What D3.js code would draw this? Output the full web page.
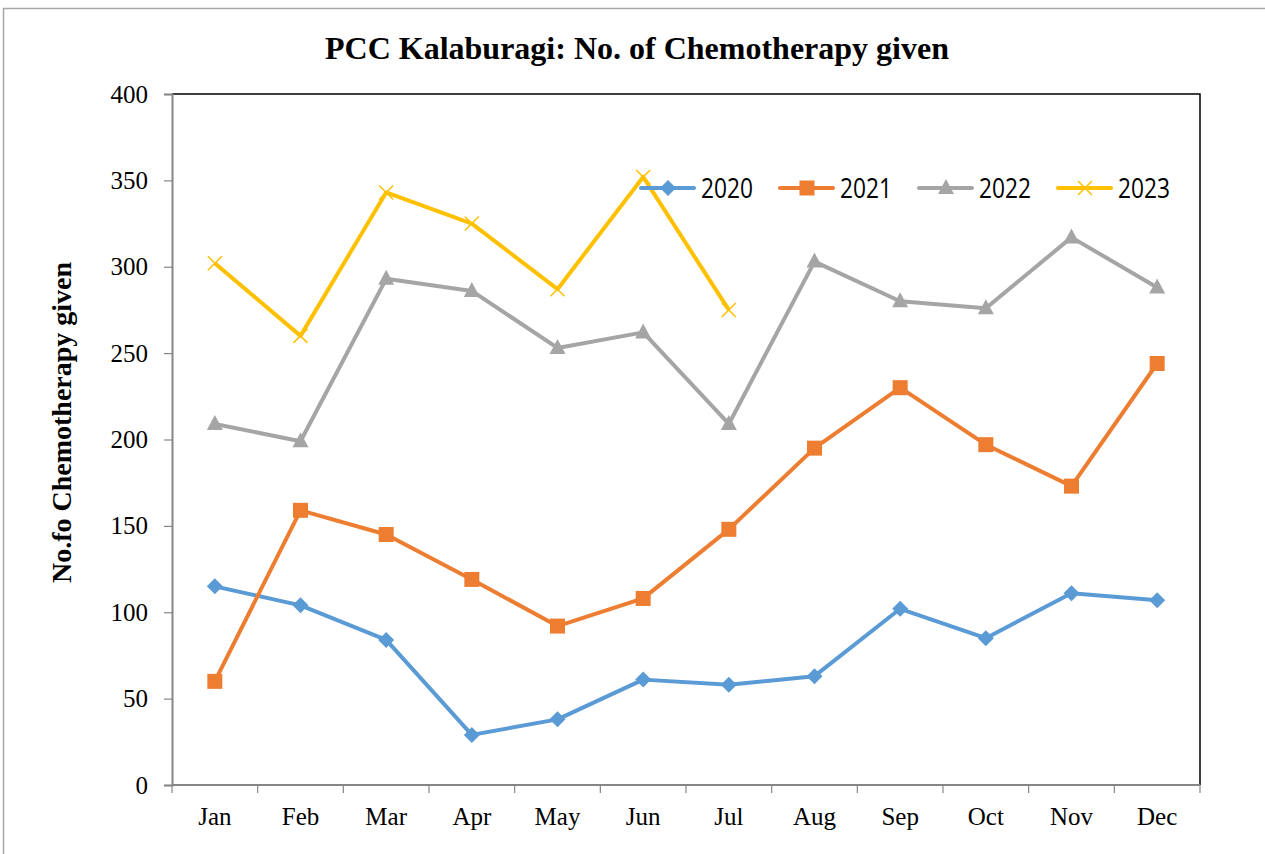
<!DOCTYPE html>
<html>
<head>
<meta charset="utf-8">
<script src="https://cdn.jsdelivr.net/npm/d3@7"></script>
<style>
  body { margin: 0; background: #fff; }
  svg { display: block; }
</style>
</head>
<body>
<svg id="chart" width="1265" height="854"></svg>
<script>
// Monthly chemotherapy counts at PCC Kalaburagi
const months = ["Jan","Feb","Mar","Apr","May","Jun","Jul","Aug","Sep","Oct","Nov","Dec"];
const years = ["2020","2021","2022","2023"];
const v2020 = [115, 104, 84, 29, 38, 61, 58, 63, 102, 85, 111, 107];
const v2021 = [60, 159, 145, 119, 92, 108, 148, 195, 230, 197, 173, 244];
const v2022 = [209, 199, 293, 286, 253, 262, 209, 303, 280, 276, 317, 288];
const v2023 = [302, 260, 343, 325, 287, 352, 275];
const yTicks = [0, 50, 100, 150, 200, 250, 300, 350, 400];

const seriesValues = [v2020, v2021, v2022, v2023];
const colors = ["#5b9bd5", "#ed7d31", "#a5a5a5", "#ffc000"];
const symbols = ["diamond", "square", "triangle", "cross"];

const svg = d3.select("#chart");
const serif = "'Liberation Serif', 'Times New Roman', serif";

// Outer chart frame
svg.append("rect")
  .attr("x", 3.5).attr("y", 8.5).attr("width", 1300).attr("height", 900)
  .attr("fill", "none").attr("stroke", "#a6a6a6").attr("stroke-width", 1.5);

const plotLeft = 172, plotRight = 1200, plotTop = 94, plotBottom = 785;

const x = d3.scaleBand().domain(months).range([plotLeft, plotRight]);
const y = d3.scaleLinear().domain([0, 400]).range([plotBottom, plotTop]);

// Plot-area border (top/right black)
svg.append("path")
  .attr("d", `M${plotLeft},${plotTop}H${plotRight}V${plotBottom}`)
  .attr("fill", "none").attr("stroke", "#000").attr("stroke-width", 1.5);

// Y axis
const yAxis = svg.append("g")
  .attr("transform", `translate(${plotLeft},0)`)
  .call(d3.axisLeft(y).tickValues(yTicks).tickSize(8).tickPadding(16));
yAxis.select(".domain").attr("stroke", "#868686").attr("stroke-width", 2);
yAxis.selectAll(".tick line").attr("stroke", "#868686").attr("stroke-width", 1.2);
yAxis.selectAll(".tick text")
  .attr("font-family", serif).attr("font-size", 25).attr("fill", "#000");

// X axis with ticks at band boundaries
const xAxisG = svg.append("g").attr("transform", `translate(0,${plotBottom})`);
xAxisG.append("line")
  .attr("x1", plotLeft).attr("x2", plotRight).attr("y1", 0).attr("y2", 0)
  .attr("stroke", "#868686").attr("stroke-width", 2);
const bounds = months.map(m => x(m)).concat([plotRight]);
xAxisG.selectAll("line.tk").data(bounds).enter().append("line")
  .attr("class", "tk")
  .attr("x1", d => d).attr("x2", d => d).attr("y1", 0).attr("y2", 8)
  .attr("stroke", "#868686").attr("stroke-width", 1.2);
xAxisG.selectAll("text").data(months).enter().append("text")
  .attr("x", d => x(d) + x.bandwidth() / 2)
  .attr("y", 40)
  .attr("text-anchor", "middle")
  .attr("font-family", serif).attr("font-size", 25)
  .text(d => d);

// Title
svg.append("text")
  .attr("x", 637).attr("y", 59)
  .attr("text-anchor", "middle")
  .attr("font-family", serif).attr("font-size", 32).attr("font-weight", "bold")
  .text("PCC Kalaburagi: No. of Chemotherapy given");

// Y-axis title
svg.append("text")
  .attr("transform", `translate(71,${(plotTop + plotBottom) / 2 - 17}) rotate(-90)`)
  .attr("text-anchor", "middle")
  .attr("font-family", serif).attr("font-size", 28).attr("font-weight", "bold")
  .text("No.fo Chemotherapy given");

const cx = (i) => x(months[i]) + x.bandwidth() / 2;

function drawMarker(g, kind, color, px, py) {
  if (kind === "diamond") {
    g.append("path")
      .attr("d", `M${px},${py - 8}L${px + 8},${py}L${px},${py + 8}L${px - 8},${py}Z`)
      .attr("fill", color);
  } else if (kind === "square") {
    g.append("rect")
      .attr("x", px - 7.5).attr("y", py - 7.5).attr("width", 15).attr("height", 15)
      .attr("fill", color);
  } else if (kind === "triangle") {
    g.append("path")
      .attr("d", `M${px},${py - 9}L${px + 8},${py + 6}L${px - 8},${py + 6}Z`)
      .attr("fill", color);
  } else {
    g.append("path")
      .attr("d", `M${px - 7},${py - 7}L${px + 7},${py + 7}M${px + 7},${py - 7}L${px - 7},${py + 7}`)
      .attr("stroke", color).attr("stroke-width", 1.5).attr("fill", "none");
  }
}

const line = d3.line().x((d, i) => cx(i)).y(d => y(d));

seriesValues.forEach((vals, s) => {
  const g = svg.append("g");
  g.append("path")
    .datum(vals)
    .attr("d", line)
    .attr("fill", "none")
    .attr("stroke", colors[s])
    .attr("stroke-width", 4)
    .attr("stroke-linejoin", "round");
  vals.forEach((v, i) => drawMarker(g, symbols[s], colors[s], cx(i), y(v)));
});

// Legend: one entry every 139px starting at x=641
const ly = 188;
years.forEach((yr, s) => {
  const x0 = 641 + s * 139;
  const g = svg.append("g");
  g.append("line")
    .attr("x1", x0).attr("x2", x0 + 53).attr("y1", ly).attr("y2", ly)
    .attr("stroke", colors[s]).attr("stroke-width", 4).attr("stroke-linecap", "round");
  drawMarker(g, symbols[s], colors[s], x0 + 27, ly);
  g.append("text")
    .attr("x", x0 + 60).attr("y", ly + 10)
    .attr("font-family", "'Open Sans', 'Noto Sans', sans-serif").attr("font-size", 28)
    .attr("textLength", 52).attr("lengthAdjust", "spacingAndGlyphs")
    .text(yr);
});
</script>
</body>
</html>
